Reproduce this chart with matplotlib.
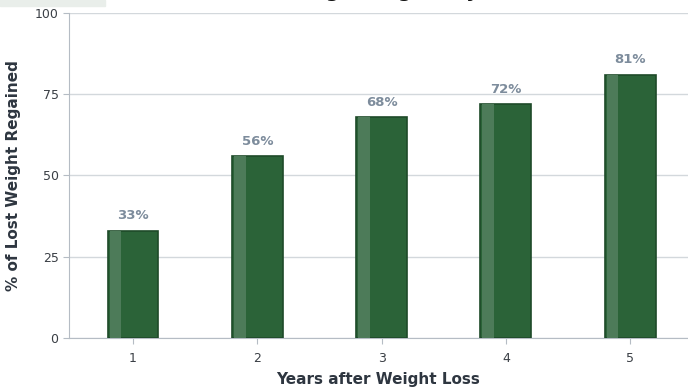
import matplotlib.pyplot as plt
from matplotlib.patches import Rectangle

# Share of lost weight regained, by year after the loss
years = [1, 2, 3, 4, 5]
regained_pct = [33, 56, 68, 72, 81]
y_ticks = [0, 25, 50, 75, 100]

bar_color = '#2b6338'
edge_color = '#1e4a29'
stripe_color = '#4d7b59'
label_color = '#7d8c9c'
text_color = '#2e3640'

fig = plt.figure(figsize=(6.88, 3.92), dpi=100)
ax = fig.add_axes([0.1003, 0.1378, 0.8997, 0.829])

# light strip in the top-left corner of the canvas
fig.patches.append(Rectangle((0, 0.985), 0.153, 0.015, transform=fig.transFigure,
                             color='#e9eeea', zorder=0))

width = 0.41
bars = ax.bar(years, regained_pct, width=width, color=bar_color,
              edgecolor=edge_color, linewidth=1.2, zorder=3)

# lighter highlight along the left side of each bar
for b in bars:
    x0 = b.get_x()
    ax.bar(x0 + width * 0.04, b.get_height(), width=width * 0.23, align='edge',
           color=stripe_color, linewidth=0, zorder=4)

for x, v in zip(years, regained_pct):
    ax.annotate(f'{v}%', (x, v), xytext=(0, 6), textcoords='offset points',
                ha='center', va='bottom', fontsize=9.5, fontweight='bold',
                color=label_color)

ax.set_xlim(0.485, 5.465)
ax.set_ylim(0, 100)
ax.set_xticks(years)
ax.set_yticks(y_ticks)
ax.yaxis.grid(True, color='#d3d8dc', linewidth=1)
ax.set_axisbelow(True)

for s in ['top', 'right']:
    ax.spines[s].set_visible(False)
for s in ['left', 'bottom']:
    ax.spines[s].set_color('#b5bcc4')
ax.tick_params(colors='#b5bcc4', labelcolor='#3a3f45', labelsize=9, length=4)
ax.tick_params(axis='x', pad=6)

ax.set_xlabel('Years after Weight Loss', fontsize=11, fontweight='bold',
              color=text_color, labelpad=5)
ax.set_ylabel('% of Lost Weight Regained', fontsize=11, fontweight='bold',
              color=text_color, labelpad=10)

# title sits at the very top edge of the canvas
fig.text(0.5, 1.007, 'Cumulative Weight Regain by Year', ha='center', va='baseline',
         fontsize=14, fontweight='bold', color='#111111')

fig.savefig('out.png', dpi=100)
